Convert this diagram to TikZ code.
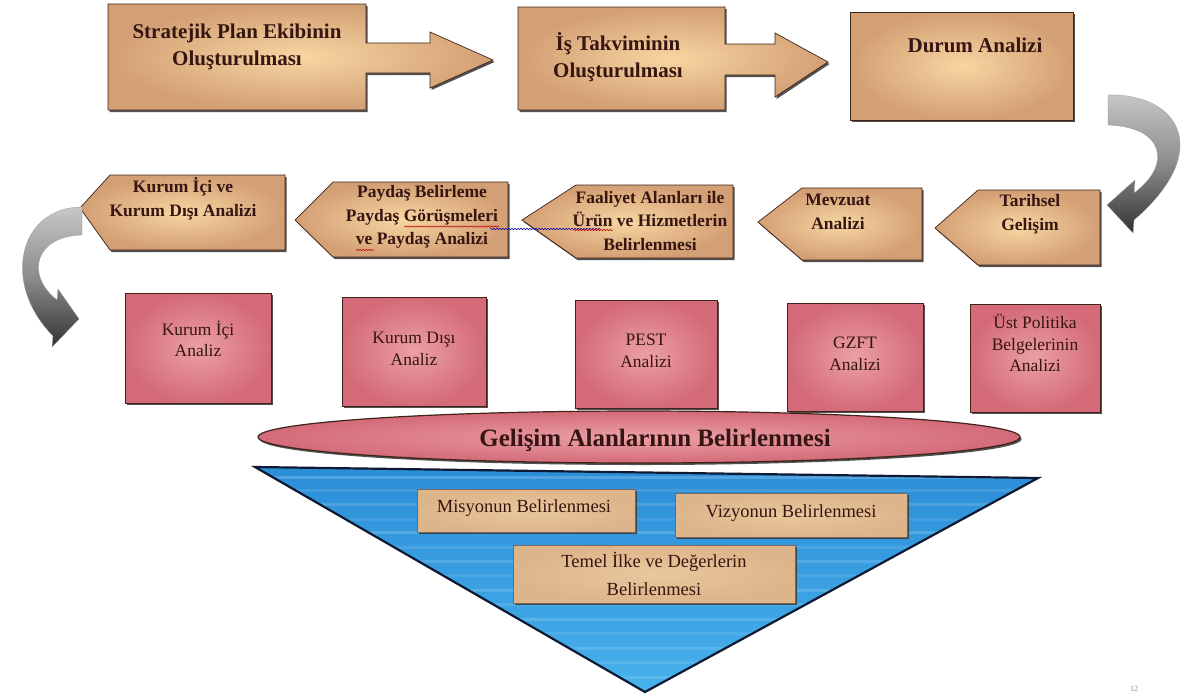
\documentclass[tikz,border=0pt]{standalone}
\usepackage{fontspec}
\setmainfont{Liberation Serif}
\usetikzlibrary{shadows,decorations.pathmorphing}
\definecolor{tanout}{HTML}{D39F74}
\definecolor{tanin}{HTML}{F7D6A2}
\definecolor{pinkout}{HTML}{D46A79}
\definecolor{pinkin}{HTML}{EBA0A6}
\definecolor{edgebrown}{HTML}{3F2419}
\definecolor{txt}{HTML}{361512}
\definecolor{bluetop}{HTML}{2A8CD6}
\definecolor{bluebot}{HTML}{48B2EC}
\definecolor{navy}{HTML}{0E1A33}
\definecolor{innertan}{HTML}{DDB58A}
\definecolor{innertanin}{HTML}{E9C79D}
\begin{document}
\begin{tikzpicture}[x=1pt,y=-1pt,
  shadowed/.style={drop shadow={shadow xshift=1.6pt,shadow yshift=-2pt,opacity=0.85,fill=black!80}},
  tanshape/.style={draw=edgebrown,line width=0.7pt,inner color=tanin,outer color=tanout,shadowed},
  pinkshape/.style={draw=edgebrown,line width=0.7pt,inner color=pinkin,outer color=pinkout,shadowed},
  innerbox/.style={draw=edgebrown!70,line width=0.5pt,inner color=innertanin,outer color=innertan,shadowed},
  ribbon/.style={draw=black!40,line width=0.3pt,top color=black!22,bottom color=black!80,middle color=black!45},
  toptxt/.style={font=\bfseries\fontsize{21}{27}\selectfont,text=txt,align=center,inner sep=0pt},
  midtxt/.style={font=\bfseries\fontsize{17.5}{23.5}\selectfont,text=txt,align=center,inner sep=0pt},
  pinktxt/.style={font=\fontsize{17.5}{21.5}\selectfont,text=txt,align=center,inner sep=0pt},
  intxt/.style={font=\fontsize{18.5}{28}\selectfont,text=txt,align=center,inner sep=0pt},
  spell/.style={line width=0.5pt,decorate,decoration={snake,amplitude=0.7pt,segment length=3pt}}
]
\useasboundingbox[fill=white] (0,0) rectangle (1198,697);

% ---------- top row ----------
\draw[tanshape] (108,4) -- (366,4) -- (366,43) -- (430,43) -- (430,32) -- (493,60)
  -- (430,88) -- (430,73) -- (366,73) -- (366,110) -- (108,110) -- cycle;
\node[toptxt] (t1) at (237,47) {Stratejik Plan Ekibinin\\Oluşturulması};

\draw[tanshape] (518,7) -- (725,7) -- (725,44) -- (775,44) -- (775,33) -- (828,62)
  -- (775,97) -- (775,75) -- (725,75) -- (725,110) -- (518,110) -- cycle;
\node[toptxt] (t2) at (618,57) {İş Takviminin\\Oluşturulması};

\draw[tanshape] (850,12) rectangle (1073,120);
\node[toptxt] (t3) at (975,45) {Durum Analizi};

% right curved ribbon arrow
\shade[ribbon] (1108,95) .. controls (1178,93) and (1215,150) .. (1134,220)
  -- (1133,233) -- (1107,205) -- (1135,180) -- (1134,193)
  .. controls (1172,165) and (1165,127) .. (1108,125) -- cycle;

% ---------- second row (pointing left) ----------
\draw[tanshape] (935,228) -- (978,190) -- (1100,190) -- (1100,265) -- (978,265) -- cycle;
\node[midtxt] (r1) at (1030,214) {Tarihsel\\Gelişim};

\draw[tanshape] (758,222) -- (802,188) -- (922,188) -- (922,260) -- (802,260) -- cycle;
\node[midtxt] (r2) at (838,212) {Mevzuat\\Analizi};

\draw[tanshape] (522,220) -- (576,185) -- (733,185) -- (733,258) -- (576,258) -- cycle;
\node[midtxt] (r3) at (650,221) {Faaliyet Alanları ile\\Ürün ve Hizmetlerin\\Belirlenmesi};

\draw[tanshape] (295,220) -- (333,182) -- (508,182) -- (508,257) -- (333,257) -- cycle;
\node[midtxt] (r4) at (422,217) {Paydaş Belirleme\\Paydaş Görüşmeleri\\ve Paydaş Analizi};

\draw[tanshape] (80,208) -- (110,175) -- (285,175) -- (285,250) -- (110,250) -- cycle;
\node[midtxt] (r5) at (183,199) {Kurum İçi ve\\Kurum Dışı Analizi};

% spell-check underlines
\draw[spell,blue!70!black] (490,229) -- (600,229);
\draw[spell,red!75!black] (404,226.5) -- (499,226.5);
\draw[spell,red!75!black] (356,250) -- (374,250);
\draw[spell,red!75!black] (573,230) -- (613,230);

% left curved ribbon arrow
\shade[ribbon] (82,207) .. controls (20,207) and (0,282) .. (53,336)
  -- (52,347) -- (79,319) -- (58,289) -- (57,300)
  .. controls (25,275) and (35,236) .. (82,235) -- cycle;

% ---------- pink boxes ----------
\draw[pinkshape] (125,293) rectangle (271,403);
\node[pinktxt] (p1) at (198,339) {Kurum İçi\\Analiz};
\draw[pinkshape] (342,297) rectangle (486,406);
\node[pinktxt] (p2) at (414,349) {Kurum Dışı\\Analiz};
\draw[pinkshape] (575,300) rectangle (717,408);
\node[pinktxt] (p3) at (646,351) {PEST\\Analizi};
\draw[pinkshape] (787,303) rectangle (923,411);
\node[pinktxt] (p4) at (855,354) {GZFT\\Analizi};
\draw[pinkshape] (970,304) rectangle (1100,412);
\node[pinktxt] (p5) at (1035,343) {Üst Politika\\Belgelerinin\\Analizi};

% ---------- ellipse ----------
\draw[draw=edgebrown,line width=1.2pt,inner color=pinkin,outer color=pinkout,shadowed]
  (639,437) ellipse [x radius=381, y radius=26];
\node[font=\bfseries\fontsize{25}{30}\selectfont,text=txt,inner sep=0pt] (g) at (655,440)
  {Gelişim Alanlarının Belirlenmesi};

% ---------- triangle ----------
\begin{scope}
\path[clip] (255,467) -- (1038,478) -- (645,692) -- cycle;
\shade[top color=bluetop,bottom color=bluebot] (250,460) rectangle (1045,695);
\foreach \yy/\op in {476/0.18,489/0.10,503/0.15,518/0.08,531/0.16,546/0.10,560/0.14,574/0.09,589/0.15,603/0.1,618/0.14,632/0.08,647/0.12,661/0.1,676/0.12}{
  \fill[white,opacity=\op] (250,\yy) rectangle (1045,\yy+3);
}
\end{scope}
\draw[navy,line width=2.2pt,line join=miter] (255,467) -- (1038,478) -- (645,692) -- cycle;

\draw[innerbox] (417,489) rectangle (635,532);
\node[intxt] (m1) at (524,508) {Misyonun Belirlenmesi};
\draw[innerbox] (675,493) rectangle (907,537);
\node[intxt] (m2) at (791,513) {Vizyonun Belirlenmesi};
\draw[innerbox] (513,545) rectangle (795,603);
\node[intxt] (m3) at (654,574) {Temel İlke ve Değerlerin\\Belirlenmesi};

% page number
\node[font=\fontsize{8}{8}\selectfont,text=black!45,inner sep=0pt] (pg) at (1134,689) {12};
\end{tikzpicture}
\end{document}
